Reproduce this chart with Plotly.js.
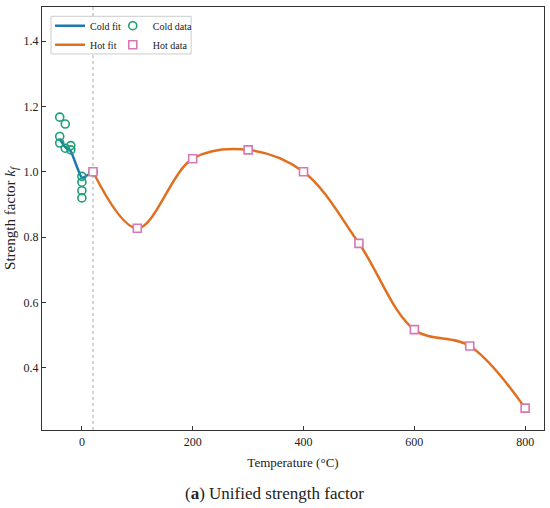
<!DOCTYPE html>
<html>
<head>
<meta charset="utf-8">
<script src="https://cdn.plot.ly/plotly-3.0.1.min.js"></script>
<style>html,body{margin:0;padding:0;background:#fff;}#chart{width:550px;height:508px;}</style>
</head>
<body>
<div id="chart"></div>
<script>
// Cold data (temperature, strength factor)
var coldDataT = [-40, -40, -40, -30, -30, -20, -20, 0, 0, 0, 0, 20];
var coldDataK = [1.167, 1.108, 1.088, 1.146, 1.072, 1.080, 1.067, 0.986, 0.968, 0.942, 0.920, 1.000];
// Cold fit
var coldFitT = [-40, -30, -20, 0, 20];
var coldFitK = [1.100, 1.075, 1.063, 0.982, 1.000];
// Hot data
var hotT = [20, 100, 200, 300, 400, 500, 600, 700, 800];
var hotK = [1.000, 0.827, 1.040, 1.067, 1.000, 0.781, 0.517, 0.467, 0.277];
var refT = 20;
var xTicks = [0, 200, 400, 600, 800];
var yTicks = [0.4, 0.6, 0.8, 1.0, 1.2, 1.4];
var yTickText = ['0.4', '0.6', '0.8', '1.0', '1.2', '1.4'];

var serif = 'Liberation Serif, Times New Roman, serif';
var traces = [
  {x: coldFitT, y: coldFitK, mode: 'lines', name: 'Cold fit', line: {color: '#1f77b4', width: 2.5, shape: 'spline', smoothing: 0.4}, legend: 'legend'},
  {x: hotT, y: hotK, mode: 'lines', name: 'Hot fit', line: {color: '#e07020', width: 2.5, shape: 'spline', smoothing: 1}, legend: 'legend'},
  {x: coldDataT, y: coldDataK, mode: 'markers', name: 'Cold data', marker: {symbol: 'circle-open', size: 8, color: '#1a9e77', line: {width: 1.6, color: '#1a9e77'}}, legend: 'legend2'},
  {x: hotT, y: hotK, mode: 'markers', name: 'Hot data', marker: {symbol: 'square', size: 8, color: '#ffffff', line: {width: 1.6, color: '#d977b5'}}, legend: 'legend2'}
];

var legFont = {family: serif, size: 10, color: '#222'};
var layout = {
  width: 550, height: 508,
  margin: {l: 42, r: 6, t: 7, b: 78},
  paper_bgcolor: '#fff', plot_bgcolor: '#fff',
  showlegend: true,
  font: {family: serif, color: '#222'},
  xaxis: {
    range: [-72, 834], tickvals: xTicks, ticks: 'inside', ticklen: 4, tickcolor: '#333',
    showline: true, linecolor: '#333', linewidth: 1.2, mirror: true, showgrid: false, zeroline: false,
    tickfont: {family: serif, size: 12, color: '#222'},
    title: {text: 'Temperature (°C)', font: {family: serif, size: 13, color: '#222'}, standoff: 10}
  },
  yaxis: {
    range: [0.21, 1.504], tickvals: yTicks, ticktext: yTickText, ticks: 'inside', ticklen: 4, tickcolor: '#333',
    showline: true, linecolor: '#333', linewidth: 1.2, mirror: true, showgrid: false, zeroline: false,
    tickfont: {family: serif, size: 12, color: '#222'},
    title: {text: 'Strength factor <i>k</i><sub><i>f</i></sub>', font: {family: serif, size: 15, color: '#222'}, standoff: 4}
  },
  legend: {x: 0.016, y: 0.99, xanchor: 'left', yanchor: 'top', bgcolor: 'rgba(0,0,0,0)', borderwidth: 0, font: legFont, itemwidth: 30, tracegroupgap: 0},
  legend2: {x: 0.141, y: 0.99, xanchor: 'left', yanchor: 'top', bgcolor: 'rgba(0,0,0,0)', borderwidth: 0, font: legFont, itemwidth: 30, tracegroupgap: 0},
  shapes: [
    {type: 'line', xref: 'x', yref: 'paper', x0: refT, x1: refT, y0: 0, y1: 1, line: {color: '#aaa', width: 1, dash: 'dot'}, layer: 'below'},
    {type: 'rect', xref: 'paper', yref: 'paper', x0: 0.018, x1: 0.297, y0: 0.889, y1: 0.978, line: {color: '#ccc', width: 1}, fillcolor: 'rgba(255,255,255,0.9)', layer: 'above'}
  ],
  annotations: [
    {xref: 'paper', yref: 'paper', x: 0.464, y: -0.149, xanchor: 'center', yanchor: 'middle', showarrow: false,
     text: '(<b>a</b>) Unified strength factor', font: {family: serif, size: 17, color: '#222'}}
  ]
};
Plotly.newPlot('chart', traces, layout, {displayModeBar: false, staticPlot: true});
</script>
</body>
</html>
